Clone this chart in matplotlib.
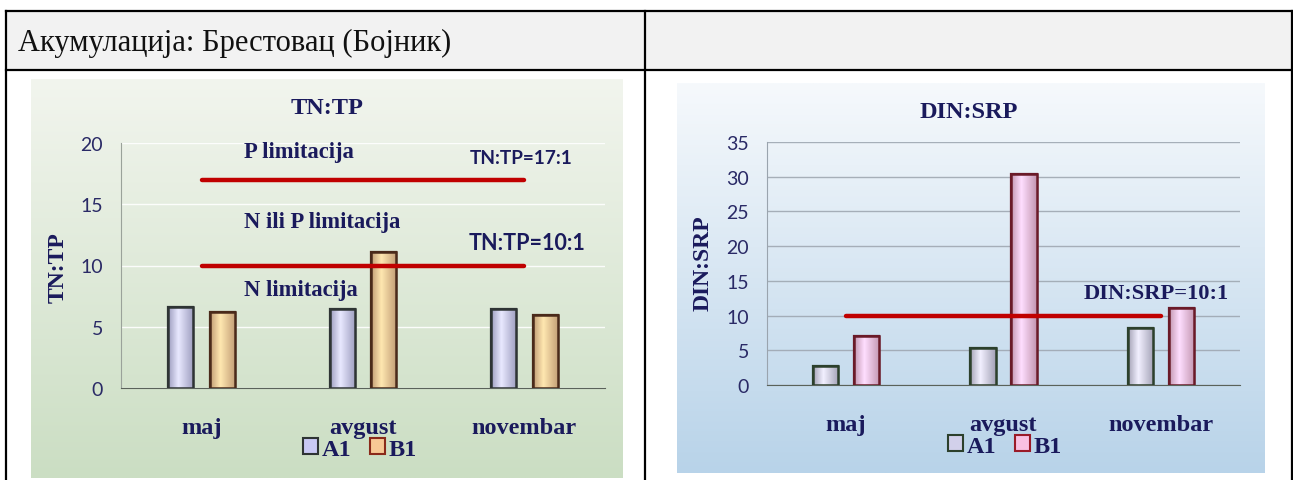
import numpy as np
import matplotlib
matplotlib.use("Agg")
import matplotlib.pyplot as plt
from matplotlib.patches import Patch, Rectangle
from matplotlib.lines import Line2D

W, H = 1293, 481

# data
header = "Акумулација: Брестовац (Бојник)"
months = ["maj", "avgust", "novembar"]
series = ["A1", "B1"]
tn_tp_a1 = [6.6, 6.45, 6.45]
tn_tp_b1 = [6.2, 11.1, 5.95]
din_srp_a1 = [2.7, 5.3, 8.2]
din_srp_b1 = [7.1, 30.4, 11.1]
tn_tp_limits = [17, 10]
din_srp_limit = 10

NAVY = "#1a1a5c"
RED = "#c00000"
SERIF = ["Liberation Serif", "DejaVu Serif"]
SANS = ["Lato", "DejaVu Sans"]


def px(x0, y0, x1, y1):
    """pixel box (top-left origin) -> figure fraction rect"""
    return [x0 / W, 1 - y1 / H, (x1 - x0) / W, (y1 - y0) / H]


def fx(x, y):
    return x / W, 1 - y / H


def gradient_bg(fig, box, top, bottom):
    ax = fig.add_axes(px(*box), zorder=0)
    c0 = np.array(matplotlib.colors.to_rgb(top))
    c1 = np.array(matplotlib.colors.to_rgb(bottom))
    t = np.linspace(0, 1, 256)[:, None, None]
    img = c0 * (1 - t) + c1 * t
    img = np.repeat(img, 4, axis=1)
    ax.imshow(img, aspect="auto", extent=(0, 1, 0, 1))
    ax.set_axis_off()
    return ax


def shaded_bars(ax, xs, vals, width, face, edge):
    bars = ax.bar(xs, vals, width, color=face, edgecolor=edge, linewidth=1.6, zorder=3)
    c = np.array(matplotlib.colors.to_rgb(face))
    dark = c * 0.78
    light = np.minimum(c * 1.08 + 0.06, 1)
    s = np.linspace(0, 1, 64)
    prof = np.where(s < 0.4, s / 0.4, 1 - (s - 0.4) / 0.6)[None, :, None]
    img = dark * (1 - prof) + light * prof
    for b in bars:
        x0, y0 = b.get_x(), b.get_y()
        im = ax.imshow(img, aspect="auto", zorder=3.5,
                       extent=(x0, x0 + b.get_width(), y0, y0 + b.get_height()))
        im.set_clip_path(b)
        # outline again on top of the gradient
        ax.add_patch(Rectangle((x0, y0), b.get_width(), b.get_height(), fill=False,
                               edgecolor=edge, linewidth=1.8, zorder=4))
    return bars


def setup_axes(ax, ymax, step, grid_color, grid_alpha):
    ax.set_facecolor("none")
    ax.set_xlim(-0.5, len(months) - 0.5)
    ax.set_ylim(0, ymax)
    ax.set_yticks(np.arange(0, ymax + 1, step))
    ax.set_xticks(range(len(months)))
    ax.set_xticklabels(months, fontfamily=SERIF, fontweight="bold", fontsize=17.5, color=NAVY)
    for lab in ax.get_yticklabels():
        lab.set_fontfamily(SANS)
        lab.set_fontsize(14)
        lab.set_color("#2a2a66")
    ax.tick_params(axis="y", length=0, pad=13)
    ax.tick_params(axis="x", length=0, pad=21)
    for s in ["top", "right"]:
        ax.spines[s].set_visible(False)
    ax.spines["left"].set_color("#9aa29a")
    ax.spines["bottom"].set_color("#5a625a")
    ax.yaxis.grid(True, color=grid_color, alpha=grid_alpha, linewidth=1)
    ax.set_axisbelow(True)


def legend(fig, faces, edges, where):
    handles = [Patch(facecolor=f, edgecolor=e, linewidth=1.5, label=s)
               for f, e, s in zip(faces, edges, series)]
    fig.legend(handles=handles, loc="center", bbox_to_anchor=fx(*where), ncol=2,
               frameon=False, prop=dict(family=SERIF, weight="bold", size=17.5),
               labelcolor=NAVY, handlelength=0.6, handleheight=0.6,
               handletextpad=0.15, columnspacing=0.8)


fig = plt.figure(figsize=(W / 100, H / 100), dpi=100)
fig.patch.set_facecolor("white")

# table header and borders
hdr = fig.add_axes(px(0, 0, W, H), zorder=-1)
hdr.set_xlim(0, W)
hdr.set_ylim(H, 0)
hdr.set_axis_off()
hdr.add_patch(Rectangle((6, 12), 1286, 59, facecolor="#f2f2f2", edgecolor="none"))
for seg in [((6, 1292), (12, 12)), ((6, 1292), (71, 71)), ((6, 6), (12, H)),
            ((1292, 1292), (12, H)), ((645, 645), (12, H))]:
    hdr.add_line(Line2D(seg[0], seg[1], color="black", linewidth=1.6))
hdr.text(18, 43, header, fontfamily=SERIF, fontsize=22, color="#111111", va="center", ha="left")

# backgrounds
gradient_bg(fig, (31, 80, 623, 479), "#f2f5ee", "#cbdec3")
gradient_bg(fig, (677, 84, 1264, 474), "#f6f9fc", "#b8d3e9")

x = np.arange(len(months))
off, bw = 0.13, 0.155

# ---- left chart: TN:TP ----
ax1 = fig.add_axes(px(121, 144, 605, 389), zorder=2)
setup_axes(ax1, 20, 5, "white", 0.9)
shaded_bars(ax1, x - off, tn_tp_a1, bw, "#c9c9f4", "#2e3434")
shaded_bars(ax1, x + off, tn_tp_b1, bw, "#f7c895", "#4a2a1a")
for lim in tn_tp_limits:
    ax1.plot([x[0], x[-1]], [lim, lim], color=RED, linewidth=3.2, solid_capstyle="round", zorder=5)
lbl = dict(fontfamily=SERIF, fontweight="bold", fontsize=16.3, color=NAVY, va="center", zorder=6)
ax1.text(0.26, 19.3, "P limitacija", ha="left", **lbl)
ax1.text(0.26, 13.6, "N ili P limitacija", ha="left", **lbl)
ax1.text(0.26, 8.0, "N limitacija", ha="left", **lbl)
ratio = dict(fontfamily=SANS, fontweight="bold", color=NAVY, va="center", ha="center", zorder=6)
ax1.text(1.98, 18.8, f"TN:TP={tn_tp_limits[0]}:1", fontsize=13.7, **ratio)
ax1.text(2.02, 11.9, f"TN:TP={tn_tp_limits[1]}:1", fontsize=15.5, **ratio)
fig.text(*fx(327, 109), "TN:TP", fontfamily=SERIF, fontweight="bold", fontsize=17.5,
         color=NAVY, ha="center", va="center")
fig.text(*fx(58, 268), "TN:TP", fontfamily=SERIF, fontweight="bold", fontsize=17,
         color=NAVY, ha="center", va="center", rotation=90)
legend(fig, ["#c9c9f4", "#f7c895"], ["#2e3434", "#8a2a1a"], (360, 450))

# ---- right chart: DIN:SRP ----
ax2 = fig.add_axes(px(767, 143, 1240, 386), zorder=2)
setup_axes(ax2, 35, 5, "#9fa8b2", 0.9)
ax2.spines["left"].set_color("#9aa4ae")
shaded_bars(ax2, x - off, din_srp_a1, bw + 0.005, "#d2d0ea", "#2c402c")
shaded_bars(ax2, x + off, din_srp_b1, bw + 0.005, "#f9c0e2", "#6a1a28")
ax2.plot([x[0], x[-1]], [din_srp_limit, din_srp_limit], color=RED, linewidth=3.2,
         solid_capstyle="round", zorder=5)
ax2.text(1.97, 13.3, f"DIN:SRP={din_srp_limit}:1", ha="center", va="center",
         fontfamily=SERIF, fontweight="bold", fontsize=16.2, color=NAVY, zorder=6)
fig.text(*fx(969, 113), "DIN:SRP", fontfamily=SERIF, fontweight="bold", fontsize=17.5,
         color=NAVY, ha="center", va="center")
fig.text(*fx(703, 263), "DIN:SRP", fontfamily=SERIF, fontweight="bold", fontsize=17,
         color=NAVY, ha="center", va="center", rotation=90)
legend(fig, ["#d2d0ea", "#f9c0e2"], ["#2c402c", "#9a1a28"], (1005, 447))

fig.savefig("out.png", dpi=100)
